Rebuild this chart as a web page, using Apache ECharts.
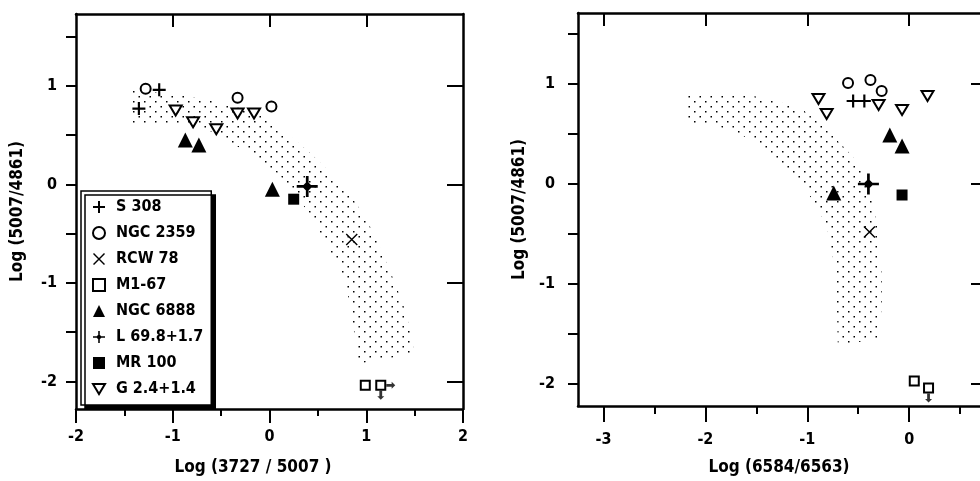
<!DOCTYPE html>
<html>
<head>
<meta charset="utf-8">
<script src="https://cdn.jsdelivr.net/npm/echarts@6/dist/echarts.min.js"></script>
<style>
html, body { margin: 0; padding: 0; background: #fff; }
#chart { width: 980px; height: 481px; }
</style>
</head>
<body>
<div id="chart"></div>
<script>
// legend order
const objectNames = ['S 308', 'NGC 2359', 'RCW 78', 'M1-67', 'NGC 6888', 'L 69.8+1.7', 'MR 100', 'G 2.4+1.4'];

// left panel: x = Log(3727/5007), y = Log(5007/4861)
const oiiS308    = [[-1.14, 0.96], [-1.35, 0.77]];
const oiiNgc2359 = [[-1.28, 0.97], [-0.33, 0.88], [0.02, 0.79]];
const oiiRcw78   = [[0.85, -0.56]];
const oiiM167    = [[0.99, -2.04], [1.15, -2.04]];
const oiiNgc6888 = [[-0.87, 0.45], [-0.73, 0.40], [0.03, -0.05]];
const oiiL698    = [[0.39, -0.02]];
const oiiMr100   = [[0.25, -0.15]];
const oiiG24     = [[-0.97, 0.75], [-0.79, 0.63], [-0.55, 0.56], [-0.33, 0.72], [-0.16, 0.72]];

// right panel: x = Log(6584/6563), y = Log(5007/4861)
const niiS308    = [[-0.55, 0.83], [-0.44, 0.83]];
const niiNgc2359 = [[-0.60, 1.01], [-0.38, 1.04], [-0.27, 0.93]];
const niiRcw78   = [[-0.39, -0.48]];
const niiM167    = [[0.05, -1.97], [0.19, -2.04]];
const niiNgc6888 = [[-0.74, -0.09], [-0.19, 0.49], [-0.07, 0.38]];
const niiL698    = [[-0.40, 0.0]];
const niiMr100   = [[-0.07, -0.11]];
const niiG24     = [[-0.89, 0.85], [-0.81, 0.70], [-0.30, 0.79], [-0.07, 0.74], [0.18, 0.88]];

// limits on the M1-67 points (one list per point)
const oiiM167Limits = [[], ['right', 'down']];
const niiM167Limits = [[], ['down']];

// HII region band (outline)
const oiiBand = [[-1.42, 0.96], [-1.0, 0.92], [-0.65, 0.86], [-0.4, 0.80], [-0.1, 0.72], [0.1, 0.57],
  [0.25, 0.46], [0.42, 0.32], [0.6, 0.15], [0.75, 0.0], [0.9, -0.2], [1.0, -0.35], [1.12, -0.59],
  [1.25, -0.89], [1.37, -1.18], [1.44, -1.42], [1.5, -1.72], [0.92, -1.82], [0.86, -1.40],
  [0.80, -1.06], [0.71, -0.83], [0.62, -0.66], [0.54, -0.52], [0.44, -0.32], [0.33, -0.19],
  [0.22, -0.02], [0.07, 0.12], [-0.1, 0.25], [-0.34, 0.39], [-0.51, 0.49], [-0.69, 0.58],
  [-1.03, 0.62], [-1.42, 0.62]];
const niiBand = [[-2.20, 0.89], [-1.96, 0.91], [-1.57, 0.89], [-1.27, 0.82], [-1.04, 0.74],
  [-0.84, 0.57], [-0.68, 0.41], [-0.55, 0.27], [-0.47, 0.14], [-0.35, -0.19], [-0.29, -0.59],
  [-0.27, -0.92], [-0.27, -1.20], [-0.29, -1.55], [-0.70, -1.61], [-0.71, -1.18], [-0.75, -0.72],
  [-0.81, -0.42], [-0.91, -0.22], [-1.04, -0.02], [-1.20, 0.14], [-1.43, 0.37], [-1.70, 0.52],
  [-1.93, 0.59], [-2.20, 0.60]];

// axis ticks
const oiiXMajor = [-2, -1, 0, 1, 2];
const oiiXMinor = [-1.5, -0.5, 0.5, 1.5];
const oiiXTop = [-1, 0, 1];
const niiXMajor = [-3, -2, -1, 0];
const niiXMinor = [-2.5, -1.5, -0.5, 0.5];
const yMajor = [-2, -1, 0, 1];
const yAll = [-2, -1.5, -1, -0.5, 0, 0.5, 1, 1.5];

const oiiPoints = [oiiS308, oiiNgc2359, oiiRcw78, oiiM167, oiiNgc6888, oiiL698, oiiMr100, oiiG24];
const niiPoints = [niiS308, niiNgc2359, niiRcw78, niiM167, niiNgc6888, niiL698, niiMr100, niiG24];

const FONT = "'DejaVu Sans Condensed', 'Liberation Sans Narrow', sans-serif";

// marker look per object
const markerStyle = {
  'S 308': { symbol: 'path://M-1,-6L1,-6L1,-1L6,-1L6,1L1,1L1,6L-1,6L-1,1L-6,1L-6,-1L-1,-1Z', size: 13, fill: '#000', bw: 0 },
  'NGC 2359': { symbol: 'circle', size: 10, fill: '#fff', bw: 2 },
  'RCW 78': { symbol: 'path://M-6,-5L-5,-6L6,5L5,6ZM5,-6L6,-5L-5,6L-6,5Z', size: 12, fill: '#000', bw: 0 },
  'M1-67': { symbol: 'rect', size: 9, fill: '#fff', bw: 2 },
  'NGC 6888': { symbol: 'triangle', size: 15, fill: '#000', bw: 0 },
  'L 69.8+1.7': { symbol: 'path://M0,-5L5,0L0,5L-5,0ZM-1.3,-10L1.3,-10L1.3,10L-1.3,10ZM-10,-1.3L10,-1.3L10,1.3L-10,1.3Z', size: 21, fill: '#000', bw: 0 },
  'MR 100': { symbol: 'rect', size: 11, fill: '#000', bw: 0 },
  'G 2.4+1.4': { symbol: 'path://M0,0L12,0L6,10Z', size: 12, fill: '#fff', bw: 2 }
};

// dot texture for the band
const tile = document.createElement('canvas');
tile.width = 11; tile.height = 10;
const tctx = tile.getContext('2d');
tctx.fillStyle = '#000';
tctx.fillRect(1, 1, 1.5, 1.5);
tctx.fillRect(6.5, 6, 1.5, 1.5);
const dots = { image: tile, repeat: 'repeat' };

function bandSeries(band, xi, yi) {
  return {
    type: 'custom', xAxisIndex: xi, yAxisIndex: yi, silent: true, z: 1,
    data: [[0, 0]],
    renderItem: function (params, api) {
      return { type: 'polygon', shape: { points: band.map(p => api.coord(p)) }, style: { fill: dots } };
    }
  };
}

function markerSeries(name, pts, xi, yi) {
  const m = markerStyle[name];
  return {
    type: 'scatter', name: name, xAxisIndex: xi, yAxisIndex: yi, z: 3,
    symbol: m.symbol, symbolSize: m.size, symbolKeepAspect: true,
    itemStyle: { color: m.fill, borderColor: '#000', borderWidth: m.bw, opacity: 1 },
    emphasis: { disabled: true },
    data: pts
  };
}

function limitSeries(pts, limits, xi, yi) {
  const data = [];
  pts.forEach((p, i) => {
    limits[i].forEach(dir => {
      data.push({
        value: p,
        symbolRotate: dir === 'down' ? -90 : 0,
        symbolOffset: dir === 'down' ? [0, 10] : [10, 0]
      });
    });
  });
  return {
    type: 'scatter', xAxisIndex: xi, yAxisIndex: yi, z: 3, silent: true,
    symbol: 'path://M0,3L6,3L6,0L10,5L6,10L6,7L0,7Z', symbolSize: [9, 7],
    itemStyle: { color: '#000' },
    data: data
  };
}

function xAxis(grid, pos, min, max, ticks, len, inside, line, labels, name, nameGap, margin, namePad) {
  return {
    type: 'value', gridIndex: grid, position: pos, min: min, max: max,
    axisLine: { show: line, onZero: false, lineStyle: { color: '#000', width: 2.5 } },
    splitLine: { show: false },
    axisTick: { show: true, inside: inside, length: len, customValues: ticks, lineStyle: { color: '#000', width: 2 } },
    axisLabel: labels ? { show: true, customValues: labels, margin: margin, color: '#000', fontFamily: FONT, fontWeight: 'bold', fontSize: 16 } : { show: false },
    name: name || '', nameLocation: 'middle', nameGap: nameGap || 0,
    nameTextStyle: { color: '#000', fontFamily: FONT, fontWeight: 'bold', fontSize: 17, padding: namePad || 0 }
  };
}

function yAxis(grid, pos, min, max, ticks, len, inside, line, labels, name, nameGap, margin) {
  const a = xAxis(grid, pos, min, max, ticks, len, inside, line, labels, name, nameGap, margin);
  a.nameRotate = 90;
  return a;
}

const series = [bandSeries(oiiBand, 0, 0), bandSeries(niiBand, 3, 2)];
objectNames.forEach((n, i) => series.push(markerSeries(n, oiiPoints[i], 0, 0)));
objectNames.forEach((n, i) => series.push(markerSeries(n, niiPoints[i], 3, 2)));
series.push(limitSeries(oiiM167, oiiM167Limits, 0, 0));
series.push(limitSeries(niiM167, niiM167Limits, 3, 2));

const chart = echarts.init(document.getElementById('chart'));
chart.setOption({
  animation: false,
  backgroundColor: '#fff',
  grid: [
    { left: 76, top: 14, width: 387, height: 396, containLabel: false },
    { left: 578, top: 13, width: 402, height: 395, containLabel: false }
  ],
  xAxis: [
    xAxis(0, 'bottom', -2, 2, oiiXMajor, 14, false, true, oiiXMajor, 'Log (3727 / 5007 )', 50, 20, [0, 33, 0, 0]),
    xAxis(0, 'top', -2, 2, oiiXTop, 13, true, true, null),
    xAxis(0, 'bottom', -2, 2, oiiXMinor, 7, false, false, null),
    xAxis(1, 'bottom', -3.25, 0.695, niiXMajor, 16, false, true, niiXMajor, 'Log (6584/6563)', 53, 26),
    xAxis(1, 'top', -3.25, 0.695, niiXMajor, 13, true, true, null),
    xAxis(1, 'bottom', -3.25, 0.695, niiXMinor, 8, false, false, null)
  ],
  yAxis: [
    yAxis(0, 'left', -2.28, 1.73, yAll, 10, false, true, yMajor, 'Log (5007/4861)', 50, 19),
    yAxis(0, 'right', -2.28, 1.73, yMajor, 16, true, true, null),
    yAxis(1, 'left', -2.22, 1.71, yAll, 10, false, true, yMajor, 'Log (5007/4861)', 50, 23),
    yAxis(1, 'right', -2.22, 1.71, yMajor, 9, true, false, null)
  ],
  legend: {
    data: objectNames,
    orient: 'vertical',
    left: 81, top: 191,
    padding: [8, 8, 8, 11],
    itemGap: 10, itemWidth: 12, itemHeight: 12,
    selectedMode: false,
    backgroundColor: '#fff',
    borderColor: '#000', borderWidth: 1.5, borderRadius: 0,
    shadowColor: '#000', shadowBlur: 0, shadowOffsetX: 4, shadowOffsetY: 4,
    textStyle: { color: '#000', fontFamily: FONT, fontWeight: 'bold', fontSize: 16, padding: [0, 0, 0, 6] }
  },
  series: series
});
</script>
</body>
</html>
